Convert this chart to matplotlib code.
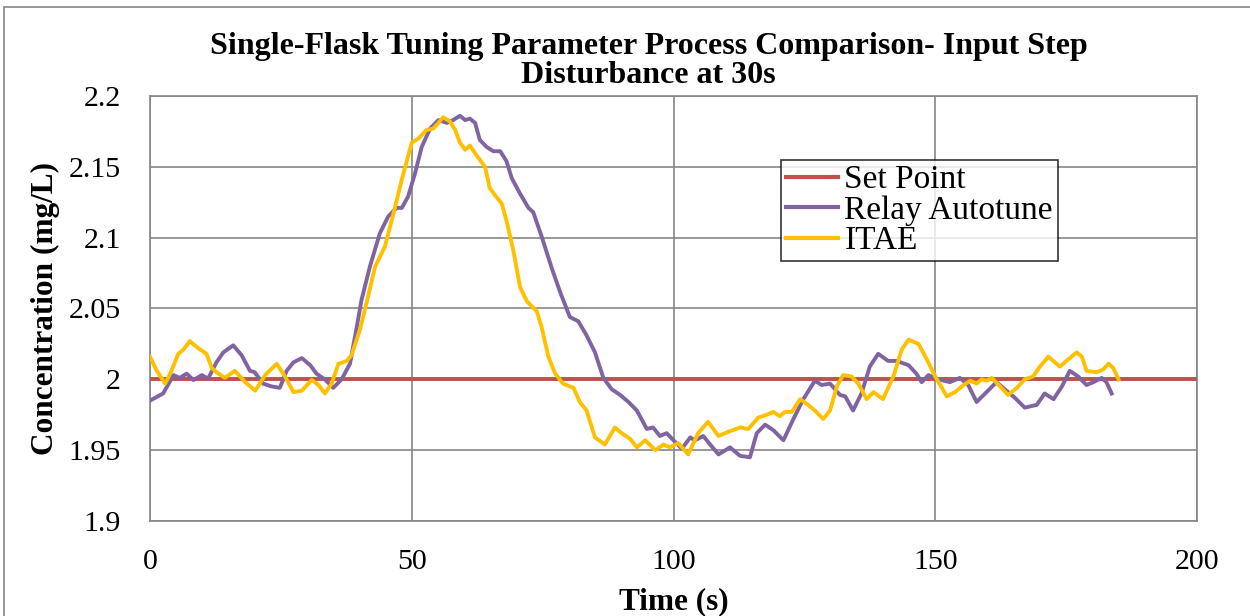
import numpy as np
import matplotlib.pyplot as plt
from matplotlib.patches import Rectangle

plt.rcParams['font.family'] = ['Liberation Serif', 'DejaVu Serif']

# set point
sp_t = [0, 200]
sp_y = [2.0, 2.0]

# relay autotune
relay_t = [0, 2.5, 4.5, 5.7, 7.0, 8.3, 9.9, 11.1, 12.7, 14.0, 15.9, 17.5, 19.1, 20.0,
           21.6, 23.2, 24.8, 26.1, 27.4, 29.0, 30.6, 31.8, 33.4, 35.0, 36.6, 38.2,
           39.5, 40.4, 42.0, 43.9, 45.5, 47.1, 48.1, 49.3, 50.6, 51.9, 53.5, 55.1,
           56.7, 57.9, 59.2, 60.2, 61.1, 62.1, 63.0, 64.3, 65.6, 66.9, 68.1, 69.1,
           70.7, 72.3, 73.2, 74.8, 76.7, 78.3, 80.2, 81.8, 83.4, 85.0, 86.6, 88.2,
           89.8, 91.4, 93.0, 94.9, 96.1, 97.4, 98.7, 100.0, 101.6, 103.2, 104.1,
           105.7, 107.0, 108.6, 110.8, 112.7, 114.6, 115.9, 117.5, 119.1, 121.0,
           122.9, 124.8, 127.0, 128.3, 129.9, 131.8, 132.8, 134.3, 135.9, 137.5,
           139.1, 141.0, 142.6, 144.9, 146.4, 147.4, 148.7, 150.6, 152.8, 154.7,
           156.3, 157.9, 159.8, 161.7, 163.6, 165.2, 167.1, 169.4, 170.9, 172.6,
           174.2, 175.7, 177.3, 178.9, 180.2, 181.8, 182.7, 183.7]
relay_y = [1.985, 1.990, 2.003, 2.001, 2.004, 1.9995, 2.003, 2.0005, 2.012, 2.019,
           2.024, 2.017, 2.006, 2.005, 1.997, 1.995, 1.994, 2.006, 2.012, 2.015,
           2.010, 2.004, 2.000, 1.994, 2.000, 2.011, 2.037, 2.056, 2.0795, 2.103,
           2.115, 2.121, 2.121, 2.129, 2.145, 2.164, 2.177, 2.183, 2.181, 2.183,
           2.186, 2.183, 2.184, 2.181, 2.169, 2.164, 2.161, 2.161, 2.154, 2.142,
           2.131, 2.121, 2.118, 2.101, 2.079, 2.062, 2.044, 2.041, 2.031, 2.019,
           2.001, 1.993, 1.989, 1.984, 1.978, 1.965, 1.966, 1.960, 1.962, 1.957,
           1.951, 1.959, 1.957, 1.960, 1.954, 1.947, 1.952, 1.946, 1.945, 1.962,
           1.968, 1.964, 1.957, 1.972, 1.986, 1.999, 1.996, 1.997, 1.989, 1.988,
           1.978, 1.990, 2.009, 2.018, 2.013, 2.013, 2.010, 2.004, 1.998, 2.003,
           2.000, 1.998, 2.001, 1.996, 1.984, 1.991, 1.998, 1.992, 1.987, 1.980,
           1.982, 1.990, 1.986, 1.995, 2.006, 2.002, 1.996, 1.998, 2.001, 1.998,
           1.990]

# ITAE
itae_t = [0, 1.3, 2.9, 4.1, 5.4, 6.4, 7.6, 9.2, 10.8, 11.8, 12.7, 14.3, 16.2, 18.2,
          20.1, 22.0, 24.2, 25.8, 27.4, 29.0, 30.9, 32.2, 33.4, 34.7, 36.0, 37.6,
          38.5, 40.1, 41.5, 43.0, 44.9, 46.5, 48.1, 50.0, 51.3, 52.8, 54.1, 55.1,
          56.0, 57.3, 58.3, 59.2, 60.2, 61.1, 62.4, 64.0, 64.9, 65.9, 67.2, 68.1,
          69.4, 70.7, 72.0, 73.9, 74.8, 76.1, 77.4, 78.9, 80.9, 82.1, 83.4, 85.0,
          86.9, 88.8, 90.1, 91.7, 93.0, 94.6, 96.5, 98.1, 99.3, 100.9, 102.8,
          104.7, 106.6, 108.6, 110.5, 112.7, 114.3, 116.2, 117.8, 119.1, 120.3,
          121.3, 122.6, 124.2, 125.7, 127.0, 128.6, 129.9, 131.2, 132.4, 134.0,
          135.3, 136.9, 138.2, 140.0, 142.0, 143.6, 144.9, 146.8, 148.4, 150.0,
          152.2, 153.8, 155.4, 156.7, 157.9, 158.9, 159.8, 160.8, 162.4, 163.9,
          165.6, 167.1, 168.7, 170.0, 171.6, 173.8, 175.4, 177.0, 178.0, 178.9,
          180.8, 182.1, 183.1, 184.0, 185.0]
itae_y = [2.016, 2.006, 1.997, 2.006, 2.018, 2.021, 2.027, 2.022, 2.018, 2.008,
          2.005, 2.001, 2.006, 1.998, 1.992, 2.003, 2.011, 2.002, 1.991, 1.992,
          1.9995, 1.996, 1.990, 1.997, 2.011, 2.013, 2.017, 2.035, 2.056, 2.0795,
          2.094, 2.117, 2.141, 2.167, 2.170, 2.176, 2.177, 2.181, 2.185, 2.182,
          2.176, 2.167, 2.162, 2.165, 2.158, 2.150, 2.135, 2.130, 2.124, 2.112,
          2.091, 2.065, 2.055, 2.048, 2.037, 2.016, 2.004, 1.997, 1.994, 1.984,
          1.978, 1.959, 1.954, 1.966, 1.962, 1.958, 1.952, 1.957, 1.950, 1.954,
          1.952, 1.955, 1.947, 1.962, 1.970, 1.960, 1.963, 1.966, 1.965, 1.973,
          1.975, 1.977, 1.974, 1.977, 1.977, 1.986, 1.982, 1.978, 1.972, 1.978,
          1.995, 2.003, 2.002, 1.997, 1.986, 1.991, 1.986, 2.002, 2.021, 2.028,
          2.025, 2.014, 2.002, 1.988, 1.991, 1.996, 1.999, 1.997, 2.000, 1.999,
          2.001, 1.995, 1.989, 1.994, 2.000, 2.002, 2.009, 2.016, 2.009, 2.014,
          2.019, 2.016, 2.006, 2.005, 2.007, 2.011, 2.008, 2.000]

x_ticks = [0, 50, 100, 150, 200]
y_ticks = [1.9, 1.95, 2.0, 2.05, 2.1, 2.15, 2.2]
y_tick_labels = ['1.9', '1.95', '2', '2.05', '2.1', '2.15', '2.2']

fig = plt.figure(figsize=(12.5, 6.16), dpi=100)
ax = fig.add_axes([0.12, 0.1542, 0.8376, 0.69])

grid_c = '#868686'
ax.plot(sp_t, sp_y, color='#C0504D', lw=2.8, label='Set Point', zorder=3)
ax.plot(relay_t, relay_y, color='#8064A2', lw=2.8, label='Relay Autotune', zorder=4)
ax.plot(itae_t, itae_y, color='#FFC000', lw=2.8, label='ITAE', zorder=5)

ax.set_xlim(0, 200)
ax.set_ylim(1.9, 2.2)
ax.set_xticks(x_ticks)
ax.set_xticklabels([str(v) for v in x_ticks])
ax.set_yticks(y_ticks)
ax.set_yticklabels(y_tick_labels)
ax.grid(True, color=grid_c, lw=1.2)
ax.set_axisbelow(True)
for s in ax.spines.values():
    s.set_color(grid_c)
    s.set_linewidth(1.2)
ax.tick_params(length=0, labelsize=21.5)
ax.tick_params(axis='x', pad=20)
ax.tick_params(axis='y', pad=21)

ax.set_xlabel('Time (s)', fontsize=22.5, fontweight='bold')
ax.xaxis.set_label_coords(0.5, -0.19)
ax.xaxis.label.set_va('center')
ax.set_ylabel('Concentration (mg/L)', fontsize=22.5, fontweight='bold')
ax.yaxis.set_label_coords(-0.1, 0.5)
ax.yaxis.label.set_va('center')

fig.text(0.519, 0.925, 'Single-Flask Tuning Parameter Process Comparison- Input Step',
         ha='center', va='center', fontsize=23, fontweight='bold')
fig.text(0.519, 0.877, 'Disturbance at 30s',
         ha='center', va='center', fontsize=23, fontweight='bold')

leg = ax.legend(loc='upper left', bbox_to_anchor=(0.6027, 0.8494), fontsize=24,
                frameon=True, fancybox=False, handlelength=1.55, handletextpad=0.2,
                borderpad=0.15, labelspacing=0.0, borderaxespad=0)
leg.get_frame().set_edgecolor('black')
leg.get_frame().set_linewidth(1.2)
for h in leg.get_lines():
    h.set_linewidth(3.0)

fig.patches.append(Rectangle((0.003, -0.01), 1.1, 0.999, transform=fig.transFigure,
                             fill=False, edgecolor=grid_c, lw=1.2))

fig.savefig('out.png', dpi=100)
